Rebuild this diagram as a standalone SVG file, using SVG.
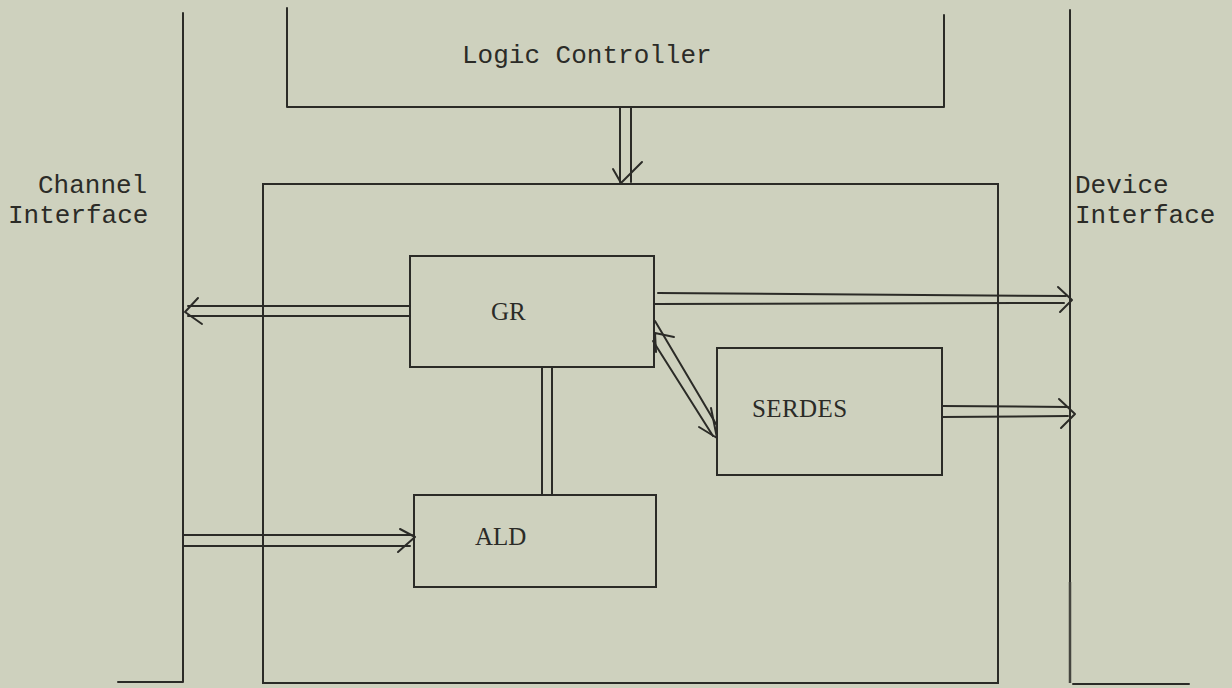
<svg xmlns="http://www.w3.org/2000/svg" width="1232" height="688" viewBox="0 0 1232 688">
<style>
.ln{stroke:#2b2b27;stroke-width:2;fill:none;stroke-linecap:round;stroke-linejoin:round}
.bx{stroke:#2b2b27;stroke-width:2;fill:none}
.mono{font-family:"Liberation Mono","DejaVu Sans Mono",monospace;font-size:26px;fill:#2b2b27}
.serif{font-family:"Liberation Serif","DejaVu Serif",serif;font-size:25px;fill:#2b2b27}
</style>
<rect width="1232" height="688" fill="#ced1be"/>
<g id="channel-interface">
<path class="ln" d="M183,13 V682 H118"/>
<text class="mono" x="38" y="193">Channel</text>
<text class="mono" x="8" y="223">Interface</text>
</g>
<g id="device-interface">
<path class="ln" d="M1070,10 V582"/>
<path d="M1070,582 V683" stroke="#45453f" stroke-width="2.5" fill="none"/>
<path class="ln" d="M1073,684 H1189"/>
<text class="mono" x="1075" y="193">Device</text>
<text class="mono" x="1075" y="223">Interface</text>
</g>
<g id="logic-controller">
<path class="ln" d="M287,8 V107 H944 V15"/>
<text class="mono" x="462" y="63">Logic Controller</text>
</g>
<g id="outer-box">
<rect class="bx" x="263" y="184" width="735" height="499"/>
</g>
<g id="gr">
<rect class="bx" x="410" y="256" width="244" height="111"/>
<text class="serif" x="491" y="320">GR</text>
</g>
<g id="serdes">
<rect class="bx" x="717" y="348" width="225" height="127"/>
<text class="serif" x="752" y="417" letter-spacing="0.4">SERDES</text>
</g>
<g id="ald">
<rect class="bx" x="414" y="495" width="242" height="92"/>
<text class="serif" x="475" y="545">ALD</text>
</g>
<g id="connectors">
<!-- Logic Controller to outer box -->
<path class="ln" d="M620,107 V182 M631,107 V182"/>
<path class="ln" d="M613,169 L621,183 L642,162"/>
<!-- GR to Channel Interface -->
<path class="ln" d="M410,306 H188 M410,316 H188"/>
<path class="ln" d="M198,298 L185,312 L202,324"/>
<!-- GR to Device Interface -->
<path class="ln" d="M658,293 L1066,296 M654,304 L1064,303"/>
<path class="ln" d="M1058,287 L1072,300 L1060,312"/>
<!-- SERDES to Device Interface -->
<path class="ln" d="M942,406 L1068,407 M942,417 L1068,416"/>
<path class="ln" d="M1059,399 L1075,414 L1061,428"/>
<!-- Channel Interface to ALD -->
<path class="ln" d="M184,535 H412 M184,546 H410"/>
<path class="ln" d="M400,529 L415,537 L398,552"/>
<!-- GR to ALD -->
<path class="ln" d="M542,367 V495 M552,367 V495"/>
<!-- GR to SERDES diagonal -->
<path class="ln" d="M655,321 L716,424 M653,341 L713,436"/>
<path class="ln" d="M699,427 L717,438 L711,408"/>
<path class="ln" d="M674,337 L655,333 L656,352"/>
</g>
</svg>
